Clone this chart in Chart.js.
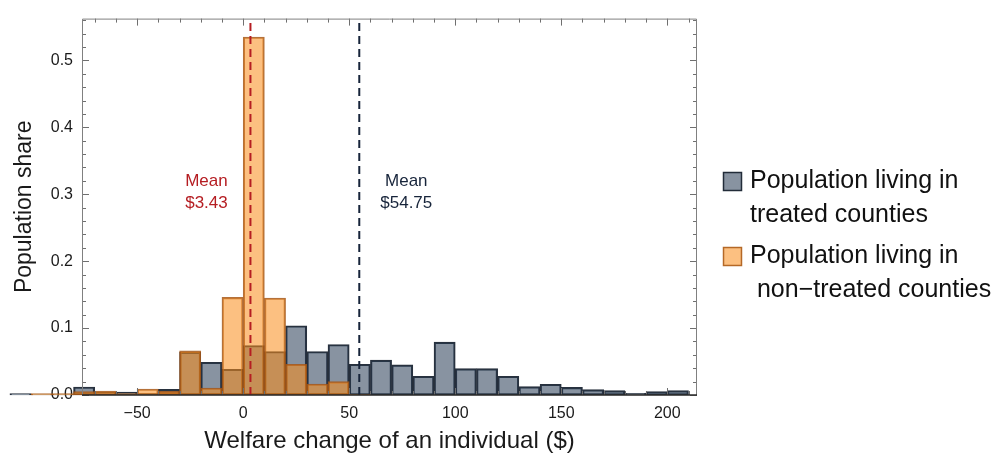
<!DOCTYPE html>
<html>
<head>
<meta charset="utf-8">
<script src="https://cdn.jsdelivr.net/npm/chart.js@4/dist/chart.umd.min.js"></script>
<style>
  html, body { margin: 0; padding: 0; background: #ffffff; }
  #wrap { width: 992px; height: 458px; position: relative; }
</style>
</head>
<body>
<div id="wrap"><canvas id="c" width="992" height="458"></canvas></div>
<script>
// Histogram bins (left edge of each $10 bin)
const binStarts = [-110, -100, -90, -80, -70, -60, -50, -40, -30, -20, -10, 0, 10, 20, 30, 40,
                   50, 60, 70, 80, 90, 100, 110, 120, 130, 140, 150, 160, 170, 180, 190, 200];
const binWidth = 10;

// Share of population per bin
const treatedShare = [0.002, 0.0005, 0.0005, 0.012, 0.004, 0.0045, 0.002, 0.0085, 0.064, 0.049, 0.0385, 0.074, 0.065, 0.1035, 0.065, 0.0755,
                      0.046, 0.052, 0.045, 0.028, 0.079, 0.0395, 0.0395, 0.028, 0.0125, 0.016, 0.0115, 0.008, 0.0065, 0.0025, 0.005, 0.0065];
const nonTreatedShare = [null, 0.002, 0.002, 0.005, 0.006, 0.002, 0.009, 0.0055, 0.066, 0.0105, 0.146, 0.535, 0.145, 0.046, 0.0165, 0.02,
                         0.001, null, null, null, null, null, null, null, null, null, null, null, null, null, null, null];

// Group means
const meanNonTreated = 3.43;
const meanTreated = 54.75;

// Axes
const xTickValues = [-50, 0, 50, 100, 150, 200];
const yTickValues = [0, 0.1, 0.2, 0.3, 0.4, 0.5];
const xMinorStep = 10;
const yMinorStep = 0.02;
const xRange = [-76, 214];
const yRange = [0, 0.5625];

const seriesNames = ["Population living in treated counties", "Population living in non\u2212treated counties"];
const legendLines = [["Population living in", "treated counties"], ["Population living in", " non\u2212treated counties"]];
const meanLabels = [["Mean", "$3.43"], ["Mean", "$54.75"]];

const FONT = "'Liberation Sans', Arial, sans-serif";
const GREY_FILL = 'rgba(38,58,84,0.55)';
const GREY_EDGE = 'rgba(28,38,52,0.95)';
const ORANGE_FILL = 'rgba(250,140,25,0.55)';
const ORANGE_EDGE = 'rgba(168,88,22,0.85)';
const RED = '#b51d22';
const NAVY = '#17243a';

const toPoints = vals => binStarts.map((b, i) => ({ x: b + binWidth / 2, y: vals[i] }));
const fmtNum = v => (v < 0 ? '\u2212' + Math.abs(v) : String(v));

// Inward frame ticks on all four sides, the frame itself and the mean notes
const framePlugin = {
  id: 'frame',
  afterDatasetsDraw(chart) {
    const { ctx, chartArea: a, scales: { x, y } } = chart;
    ctx.save();
    ctx.strokeStyle = '#6f6f6f';
    ctx.lineWidth = 1;
    const xs = [];
    for (let v = Math.ceil(xRange[0] / xMinorStep) * xMinorStep; v <= xRange[1]; v += xMinorStep) xs.push(v);
    ctx.beginPath();
    xs.forEach(v => {
      const px = Math.round(x.getPixelForValue(v)) + 0.5;
      const len = v % 50 === 0 ? 7 : 4;
      ctx.moveTo(px, a.bottom); ctx.lineTo(px, a.bottom - len);
      ctx.moveTo(px, a.top); ctx.lineTo(px, a.top + len);
    });
    for (let k = 0; k * yMinorStep <= yRange[1] + 1e-9; k++) {
      const v = k * yMinorStep;
      const py = Math.round(y.getPixelForValue(v)) + 0.5;
      const len = k % 5 === 0 ? 7 : 4;
      ctx.moveTo(a.left, py); ctx.lineTo(a.left + len, py);
      ctx.moveTo(a.right, py); ctx.lineTo(a.right - len, py);
    }
    ctx.stroke();
    ctx.strokeStyle = '#808080';
    ctx.beginPath();
    ctx.moveTo(a.left + 0.5, a.bottom); ctx.lineTo(a.left + 0.5, a.top + 0.5);
    ctx.lineTo(a.right - 0.5, a.top + 0.5); ctx.lineTo(a.right - 0.5, a.bottom);
    ctx.stroke();
    ctx.strokeStyle = '#2a2a2a';
    ctx.lineWidth = 1.5;
    ctx.beginPath();
    ctx.moveTo(a.left, a.bottom); ctx.lineTo(a.right, a.bottom);
    ctx.stroke();

    ctx.font = '17px ' + FONT;
    ctx.textAlign = 'center';
    ctx.textBaseline = 'middle';
    const notes = [
      { mean: meanNonTreated, dx: -44, color: RED, lines: meanLabels[0] },
      { mean: meanTreated, dx: 47, color: NAVY, lines: meanLabels[1] }
    ];
    notes.forEach(n => {
      ctx.fillStyle = n.color;
      const cx = x.getPixelForValue(n.mean) + n.dx;
      ctx.fillText(n.lines[0], cx, y.getPixelForValue(0.319));
      ctx.fillText(n.lines[1], cx, y.getPixelForValue(0.287));
    });
    ctx.restore();
  }
};

// Legend to the right of the plot
const legendPlugin = {
  id: 'sideLegend',
  afterDraw(chart) {
    const { ctx } = chart;
    const entries = [
      { fill: GREY_FILL, edge: GREY_EDGE, lines: legendLines[0], top: 181 },
      { fill: ORANGE_FILL, edge: ORANGE_EDGE, lines: legendLines[1], top: 256 }
    ];
    ctx.save();
    ctx.font = '25px ' + FONT;
    ctx.textBaseline = 'middle';
    ctx.textAlign = 'left';
    entries.forEach(e => {
      ctx.fillStyle = '#ffffff';
      ctx.fillRect(723, e.top - 9, 19, 19);
      ctx.fillStyle = e.fill;
      ctx.fillRect(723, e.top - 9, 19, 19);
      ctx.strokeStyle = e.edge;
      ctx.lineWidth = 1.5;
      ctx.strokeRect(723.5, e.top - 8.5, 18, 18);
      ctx.fillStyle = '#111111';
      ctx.fillText(e.lines[0], 750, e.top);
      ctx.fillText(e.lines[1], 750, e.top + 34);
    });
    ctx.restore();
  }
};

new Chart(document.getElementById('c'), {
  type: 'bar',
  data: {
    datasets: [
      {
        type: 'line', label: 'Mean non-treated', order: 0, clip: false,
        data: [{ x: meanNonTreated, y: yRange[0] }, { x: meanNonTreated, y: yRange[1] }],
        borderColor: RED, borderWidth: 2, borderDash: [8, 5], pointRadius: 0, fill: false
      },
      {
        type: 'line', label: 'Mean treated', order: 0, clip: false,
        data: [{ x: meanTreated, y: yRange[0] }, { x: meanTreated, y: yRange[1] }],
        borderColor: NAVY, borderWidth: 2, borderDash: [8, 5], pointRadius: 0, fill: false
      },
      {
        label: seriesNames[1], order: 1, clip: false,
        data: toPoints(nonTreatedShare),
        backgroundColor: ORANGE_FILL, borderColor: ORANGE_EDGE, borderWidth: 1.5,
        barPercentage: 1, categoryPercentage: 1, grouped: false, borderSkipped: false
      },
      {
        label: seriesNames[0], order: 2, clip: false,
        data: toPoints(treatedShare),
        backgroundColor: GREY_FILL, borderColor: GREY_EDGE, borderWidth: 1.5,
        barPercentage: 1, categoryPercentage: 1, grouped: false, borderSkipped: false
      }
    ]
  },
  options: {
    responsive: false,
    devicePixelRatio: 1,
    animation: false,
    layout: { padding: { left: 0, top: 12, right: 295, bottom: 0 } },
    plugins: { legend: { display: false }, tooltip: { enabled: false } },
    scales: {
      x: {
        type: 'linear', min: xRange[0], max: xRange[1], offset: false,
        grid: { display: false, drawTicks: false, offset: false },
        border: { display: false },
        afterBuildTicks: s => { s.ticks = xTickValues.map(v => ({ value: v })); },
        afterFit: s => { s.height = 63; },
        ticks: { font: { family: FONT, size: 16 }, color: '#1a1a1a', padding: 9, maxRotation: 0, callback: v => fmtNum(v) },
        title: { display: true, text: 'Welfare change of an individual ($)', font: { family: FONT, size: 24 }, color: '#1a1a1a', padding: { top: 0, bottom: 2 } }
      },
      y: {
        type: 'linear', min: yRange[0], max: yRange[1],
        grid: { display: false, drawTicks: false },
        border: { display: false },
        afterBuildTicks: s => { s.ticks = yTickValues.map(v => ({ value: v })); },
        afterFit: s => { s.width = 82; },
        ticks: { font: { family: FONT, size: 16 }, color: '#1a1a1a', padding: 9, callback: v => v.toFixed(1) },
        title: { display: true, text: 'Population share', font: { family: FONT, size: 23 }, color: '#1a1a1a', padding: { top: 11, bottom: 0 } }
      }
    }
  },
  plugins: [framePlugin, legendPlugin]
});
</script>
</body>
</html>
